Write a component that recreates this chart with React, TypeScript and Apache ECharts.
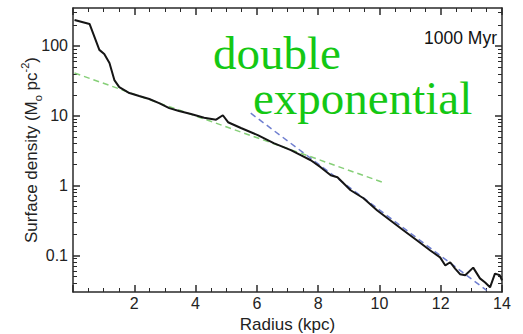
import React, { useEffect, useRef } from "react";
import * as echarts from "echarts";

// Surface density profile (black curve)
const radius = [0.05, 0.54, 0.86, 1.02, 1.19, 1.35, 1.51, 1.84, 2.16, 2.49, 2.81, 3.14, 3.46, 3.85, 4.28, 4.67, 4.89, 5.06, 5.48, 6.03, 6.55, 7.11, 7.43, 7.76, 8.08, 8.41, 8.63, 9.06, 9.48, 9.93, 10.35, 10.78, 11.23, 11.66, 11.98, 12.15, 12.31, 12.47, 12.63, 12.8, 13.06, 13.28, 13.45, 13.61, 13.77, 13.93, 14.0];
const density = [236, 207, 88, 77, 57, 32.5, 25.8, 21.2, 19.2, 17.4, 15.2, 12.9, 11.7, 10.6, 9.4, 8.8, 10.2, 8.1, 6.7, 5.3, 4.06, 3.22, 2.73, 2.31, 1.84, 1.41, 1.32, 0.86, 0.66, 0.44, 0.32, 0.23, 0.164, 0.118, 0.094, 0.072, 0.08, 0.065, 0.054, 0.052, 0.067, 0.047, 0.041, 0.035, 0.055, 0.052, 0.044];

// Inner exponential fit (green dashed)
const innerFitR = [0.05, 10.1];
const innerFitV = [41, 1.12];

// Outer exponential fit (blue dashed)
const outerFitR = [5.8, 13.5];
const outerFitV = [10.9, 0.0316];

// Axis ticks
const xMin = 0;
const xMax = 14;
const xInterval = 2;
const yMin = 0.03;
const yMax = 350;
const yMajorTicks = [0.1, 1, 10, 100];
const yMinorTicks = [0.04, 0.05, 0.06, 0.07, 0.08, 0.09, 0.2, 0.3, 0.4, 0.5, 0.6, 0.7, 0.8, 0.9, 2, 3, 4, 5, 6, 7, 8, 9, 20, 30, 40, 50, 60, 70, 80, 90, 200, 300];

const zip = (a: number[], b: number[]) => a.map((v, i) => [v, b[i]]);

const SANS = '"Liberation Sans", Arial, Helvetica, sans-serif';
const SERIF = '"Liberation Serif", "Times New Roman", serif';
const AXIS_COLOR = "#2a2a2a";

export default function App() {
  const ref = useRef<HTMLDivElement>(null);
  useEffect(() => {
    document.body.style.margin = "0";
    if (!ref.current) return;
    const chart = echarts.init(ref.current, null, { renderer: "svg" });

    const xBase: any = {
      type: "value",
      min: xMin,
      max: xMax,
      interval: xInterval,
      splitLine: { show: false },
      axisLine: { onZero: false, lineStyle: { color: AXIS_COLOR, width: 1.5 } },
      axisTick: { inside: true, length: 7, lineStyle: { color: AXIS_COLOR, width: 1.5 } },
      minorTick: { show: true, splitNumber: 4, length: 4, lineStyle: { color: AXIS_COLOR, width: 1 } },
    };
    const yBase: any = {
      type: "log",
      logBase: 10,
      min: yMin,
      max: yMax,
      splitLine: { show: false },
      minorTick: { show: false },
      minorSplitLine: { show: false },
      axisLine: { onZero: false, lineStyle: { color: AXIS_COLOR, width: 1.5 } },
    };

    chart.setOption({
      animation: false,
      backgroundColor: "#ffffff",
      grid: { left: 73, right: 21, top: 8, bottom: 42, containLabel: false, outerBoundsMode: "none" },
      xAxis: [
        {
          ...xBase,
          position: "bottom",
          axisLabel: { showMinLabel: false, color: "#222", fontSize: 16, fontFamily: SANS, margin: 3 },
          name: "Radius (kpc)",
          nameLocation: "middle",
          nameGap: 24,
          nameMoveOverlap: false,
          nameTextStyle: { color: "#222", fontSize: 17, fontFamily: SANS },
        },
        { ...xBase, position: "top", axisLabel: { show: false } },
      ],
      yAxis: [
        {
          ...yBase,
          position: "left",
          axisTick: { inside: true, length: 7, customValues: yMajorTicks, lineStyle: { color: AXIS_COLOR, width: 1.5 } },
          axisLabel: { customValues: yMajorTicks, formatter: (v: number) => String(v), color: "#222", fontSize: 16, fontFamily: SANS, margin: 5 },
          name: "{a|Surface density (M}{sub|o}{a| pc}{sup|-2}{a|)}",
          nameLocation: "middle",
          nameGap: 30,
          nameMoveOverlap: false,
          nameTextStyle: {
            color: "#222",
            fontFamily: SANS,
            rich: {
              a: { fontSize: 17, fontFamily: SANS, color: "#222", lineHeight: 24, verticalAlign: "middle" },
              sub: { fontSize: 11, fontFamily: SANS, color: "#222", lineHeight: 11, verticalAlign: "bottom" },
              sup: { fontSize: 11, fontFamily: SANS, color: "#222", lineHeight: 11, verticalAlign: "top" },
            },
          },
        },
        {
          ...yBase,
          position: "right",
          axisTick: { inside: true, length: 7, customValues: yMajorTicks, lineStyle: { color: AXIS_COLOR, width: 1.5 } },
          axisLabel: { show: false },
        },
        {
          ...yBase,
          position: "left",
          axisLine: { show: false, onZero: false },
          axisTick: { inside: true, length: 4, customValues: yMinorTicks, lineStyle: { color: AXIS_COLOR, width: 1 } },
          axisLabel: { show: false },
        },
        {
          ...yBase,
          position: "right",
          axisLine: { show: false, onZero: false },
          axisTick: { inside: true, length: 4, customValues: yMinorTicks, lineStyle: { color: AXIS_COLOR, width: 1 } },
          axisLabel: { show: false },
        },
      ],
      series: [
        {
          type: "line",
          name: "inner fit",
          data: zip(innerFitR, innerFitV),
          showSymbol: false,
          symbol: "none",
          lineStyle: { color: "#86cf78", width: 1.5, type: [6, 4] },
          z: 2,
        },
        {
          type: "line",
          name: "outer fit",
          data: zip(outerFitR, outerFitV),
          showSymbol: false,
          symbol: "none",
          lineStyle: { color: "#6f7fd0", width: 1.5, type: [6, 4] },
          z: 2,
        },
        {
          type: "line",
          name: "profile",
          data: zip(radius, density),
          showSymbol: false,
          symbol: "none",
          lineStyle: { color: "#151515", width: 2 },
          z: 3,
        },
      ],
      graphic: [
        {
          type: "text",
          x: 497,
          y: 38,
          style: { text: "1000 Myr", font: `17.5px ${SANS}`, fill: "#111", align: "right", verticalAlign: "middle" },
        },
        {
          type: "text",
          x: 213,
          y: 29,
          style: { text: "double", font: `47px ${SERIF}`, fill: "#14c814", align: "left", verticalAlign: "top" },
        },
        {
          type: "text",
          x: 253,
          y: 74,
          style: { text: "exponential", font: `47px ${SERIF}`, fill: "#14c814", align: "left", verticalAlign: "top" },
        },
      ],
    });
    return () => chart.dispose();
  }, []);
  return <div ref={ref} style={{ width: 523, height: 334 }} />;
}
